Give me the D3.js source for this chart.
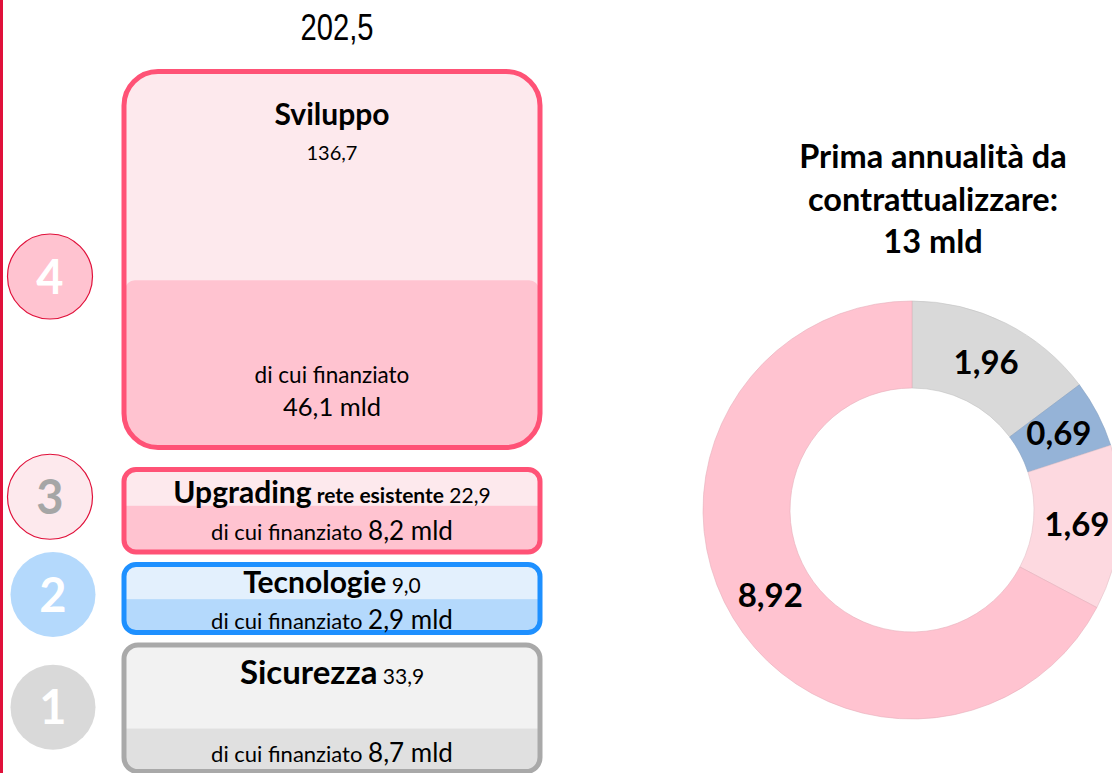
<!DOCTYPE html>
<html>
<head>
<meta charset="utf-8">
<script src="https://cdn.jsdelivr.net/npm/d3@7"></script>
<style>
  body { margin: 0; background: #fff; }
  svg { display: block; font-family: Lato, 'Open Sans', sans-serif; }
</style>
</head>
<body>
<div id="chart"></div>
<script>
// data
const categories = ['Sviluppo', 'Upgrading', 'Tecnologie', 'Sicurezza'];
const subtitles = ['', 'rete esistente', '', ''];
const ranks = [4, 3, 2, 1];
const totals = [136.7, 22.9, 9.0, 33.9];
const financed = [46.1, 8.2, 2.9, 8.7];
const grandTotal = 202.5;

const donutCategories = ['Sicurezza', 'Tecnologie', 'Upgrading', 'Sviluppo'];
const donutValues = [1.96, 0.69, 1.69, 8.92];
const donutTitle = ['Prima annualità da', 'contrattualizzare:', '13 mld'];
const financedLabel = 'di cui finanziato';

const W = 1112, H = 773;
const it = d3.formatLocale({ decimal: ',', thousands: '.', grouping: [3], currency: ['', '€'] });
const f1 = it.format('.1f'), f2 = it.format('.2f');

const STYLE = {
  Sviluppo:   { stroke: '#ff5276', upper: '#fde9ed', lower: '#ffc3d0', rx: 34, circle: '#ffc3d0', cStroke: '#e0103a', cText: '#fff', title: 30 },
  Upgrading:  { stroke: '#ff5276', upper: '#fde9ed', lower: '#ffc3d0', rx: 12, circle: '#fde9ed', cStroke: '#e0103a', cText: '#a6a6a6', title: 30 },
  Tecnologie: { stroke: '#1e90ff', upper: '#e3f0fd', lower: '#b4d9fc', rx: 12, circle: '#b4d9fc', cStroke: 'none', cText: '#fff', title: 30 },
  Sicurezza:  { stroke: '#a9a9a9', upper: '#f2f2f2', lower: '#e0e0e0', rx: 14, circle: '#d9d9d9', cStroke: 'none', cText: '#fff', title: 33 }
};
const donutColor = d3.scaleOrdinal()
  .domain(donutCategories)
  .range(['#d9d9d9', '#95b3d7', '#fdd9e0', '#ffc3d0']);

// row layout (offsets relative to the box)
const LAYOUT = {
  x0: 124, x1: 540, top: 71.5, gaps: [22, 12.5, 12.5], minH: 68,
  lowerFrac: [0.445, 0.56, 0.49, 0.34],
  line1: [53, 33.5, 28.5, 38.5],
  line2: [-32, -12, -4, -9.5],
  circleX: [50, 50, 53, 53],
  circleDy: [17, -14, -4, -1]
};

const svg = d3.select('#chart').append('svg')
  .attr('width', W).attr('height', H);

// left red rule
svg.append('rect').attr('x', 0).attr('y', 0).attr('width', 3).attr('height', H).attr('fill', '#e0103a');

// box heights: sqrt scale with a minimum
const hScale = d3.scalePow().exponent(0.5)
  .domain([22.9, d3.max(totals)])
  .range([82.5, 376]);

let y = LAYOUT.top;
const rows = categories.map((c, i) => {
  const h = Math.max(LAYOUT.minH, hScale(totals[i]));
  const r = { cat: c, i, y0: y, y1: y + h, h };
  y += h + (LAYOUT.gaps[i] || 0);
  return r;
});

const cx = (LAYOUT.x0 + LAYOUT.x1) / 2;
const defs = svg.append('defs');

const g = svg.selectAll('g.row').data(rows).join('g').attr('class', 'row');

g.each(function (d) {
  const s = STYLE[d.cat];
  const sel = d3.select(this);
  const w = LAYOUT.x1 - LAYOUT.x0;
  defs.append('clipPath').attr('id', 'clip' + d.i)
    .append('rect').attr('x', LAYOUT.x0).attr('y', d.y0).attr('width', w).attr('height', d.h).attr('rx', s.rx);

  sel.append('rect')
    .attr('x', LAYOUT.x0).attr('y', d.y0).attr('width', w).attr('height', d.h).attr('rx', s.rx)
    .attr('fill', s.upper);
  const split = d.y1 - d.h * LAYOUT.lowerFrac[d.i];
  sel.append('rect')
    .attr('clip-path', `url(#clip${d.i})`)
    .attr('x', LAYOUT.x0 + 1).attr('y', split).attr('width', w - 2).attr('height', d.y1 - split + 10)
    .attr('rx', d.i === 0 ? 10 : 0)
    .attr('fill', s.lower);
  sel.append('rect')
    .attr('x', LAYOUT.x0).attr('y', d.y0).attr('width', w).attr('height', d.h).attr('rx', s.rx)
    .attr('fill', 'none').attr('stroke', s.stroke).attr('stroke-width', 5);

  // rank circle
  const ccy = (d.y0 + d.y1) / 2 + LAYOUT.circleDy[d.i];
  sel.append('circle')
    .attr('cx', LAYOUT.circleX[d.i]).attr('cy', ccy).attr('r', 42.5)
    .attr('fill', s.circle).attr('stroke', s.cStroke).attr('stroke-width', 1.2);
  sel.append('text')
    .attr('x', LAYOUT.circleX[d.i]).attr('y', ccy + 17)
    .attr('text-anchor', 'middle')
    .attr('font-size', 47).attr('font-weight', 700).attr('fill', s.cText)
    .text(ranks[d.i]);

  if (d.i === 0) {
    sel.append('text').attr('x', cx).attr('y', d.y0 + LAYOUT.line1[d.i])
      .attr('text-anchor', 'middle').attr('font-size', s.title).attr('font-weight', 700)
      .text(d.cat);
    sel.append('text').attr('x', cx).attr('y', d.y0 + 88)
      .attr('text-anchor', 'middle').attr('font-size', 20)
      .text(f1(totals[d.i]));
    sel.append('text').attr('x', cx).attr('y', d.y1 - 65)
      .attr('text-anchor', 'middle').attr('font-size', 22.5)
      .text(financedLabel);
    sel.append('text').attr('x', cx).attr('y', d.y1 + LAYOUT.line2[d.i])
      .attr('text-anchor', 'middle').attr('font-size', 25.5)
      .text(f1(financed[d.i]) + ' mld');
  } else {
    const t1 = sel.append('text').attr('x', cx).attr('y', d.y0 + LAYOUT.line1[d.i])
      .attr('text-anchor', 'middle');
    t1.append('tspan').attr('font-size', s.title).attr('font-weight', 700).text(d.cat);
    if (subtitles[d.i]) t1.append('tspan').attr('font-size', 21).attr('font-weight', 700).text(' ' + subtitles[d.i]);
    t1.append('tspan').attr('font-size', 21).text(' ' + f1(totals[d.i]));

    const t2 = sel.append('text').attr('x', cx).attr('y', d.y1 + LAYOUT.line2[d.i])
      .attr('text-anchor', 'middle');
    t2.append('tspan').attr('font-size', 22).text(financedLabel + (d.cat === 'Sicurezza' ? '  ' : ' '));
    t2.append('tspan').attr('font-size', 26).text(f1(financed[d.i]) + ' mld');
  }
});

// grand total (narrow face)
svg.append('text')
  .attr('x', cx + 5).attr('y', 40)
  .attr('text-anchor', 'middle')
  .attr('font-family', "'Liberation Sans', Arial, sans-serif")
  .attr('font-size', 36)
  .attr('textLength', 73)
  .attr('lengthAdjust', 'spacingAndGlyphs')
  .text(f1(grandTotal));

// donut
const DC = { x: 912, y: 510, r0: 122, r1: 209 };
const pie = d3.pie().sort(null).value(d => d.v);
const arcs = pie(donutValues.map((v, i) => ({ v, cat: donutCategories[i] })));
const arc = d3.arc().innerRadius(DC.r0).outerRadius(DC.r1);
const dg = svg.append('g').attr('transform', `translate(${DC.x},${DC.y})`);
dg.selectAll('path').data(arcs).join('path')
  .attr('d', arc)
  .attr('fill', d => donutColor(d.data.cat))
  .attr('stroke', d => d3.color(donutColor(d.data.cat)).darker(0.3))
  .attr('stroke-width', 0.6);
dg.selectAll('text').data(arcs).join('text')
  .attr('transform', d => `translate(${arc.centroid(d)})`)
  .attr('text-anchor', 'middle')
  .attr('dy', '0.35em')
  .attr('font-size', 33).attr('font-weight', 700)
  .text(d => f2(d.data.v));

svg.append('text')
  .attr('text-anchor', 'middle')
  .attr('font-size', 32.5).attr('font-weight', 700)
  .selectAll('tspan').data(donutTitle).join('tspan')
  .attr('x', 933).attr('y', (d, i) => 168 + i * 42.5)
  .text(d => d);
</script>
</body>
</html>
